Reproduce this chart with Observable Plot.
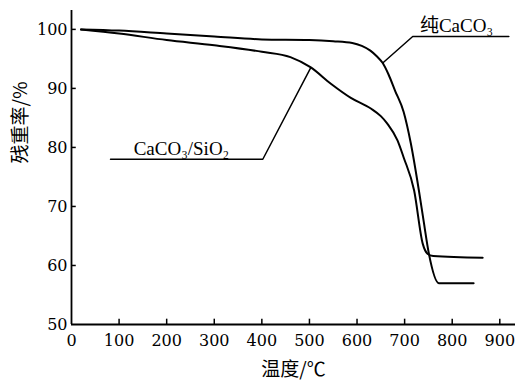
<!DOCTYPE html>
<html>
<head>
<meta charset="utf-8">
<script src="https://cdn.jsdelivr.net/npm/d3@7"></script>
<script src="https://cdn.jsdelivr.net/npm/@observablehq/plot@0.6"></script>
<style>
  html, body { margin: 0; padding: 0; background: #fff; }
  svg { display: block; }
</style>
</head>
<body>
<div id="chart"></div>
<script>
// Pure CaCO3 curve
const pureT = [20, 100, 200, 300, 400, 500, 550, 590, 610, 628, 642, 654, 666, 680, 698, 713, 730, 740, 751, 772, 800, 845];
const pureW = [100, 99.8, 99.3, 98.8, 98.3, 98.2, 98.0, 97.7, 97.2, 96.4, 95.4, 94.3, 92.4, 89.6, 86.0, 80.7, 72.7, 67.5, 62.0, 57.0, 57.0, 57.0];
// CaCO3/SiO2 curve
const compT = [20, 100, 200, 300, 400, 460, 502, 545, 587, 629, 650, 664, 685, 698, 720, 738, 748, 760, 864];
const compW = [100, 99.3, 98.2, 97.3, 96.2, 95.3, 93.6, 90.8, 88.4, 86.6, 85.3, 84.0, 81.2, 78.3, 72.7, 63.7, 62.0, 61.6, 61.3];
// Leader lines for labels
const pureLeaderT = [654, 717, 919];
const pureLeaderW = [94.3, 98.8, 98.8];
const compLeaderT = [502, 402, 82];
const compLeaderW = [93.4, 78.0, 78.0];
const labels = [
  {t: 809, w: 98.8, text: "纯CaCO₃"},
  {t: 231, w: 78.0, text: "CaCO₃/SiO₂"}
];
const xTicks = [0, 100, 200, 300, 400, 500, 600, 700, 800, 900];
const yTicks = [50, 60, 70, 80, 90, 100];
const xLabel = "温度/℃";
const yLabel = "残重率/%";

const zip = (a, b) => a.map((v, i) => ({t: v, w: b[i]}));
const pure = zip(pureT, pureW);
const comp = zip(compT, compW);
const pureLeader = zip(pureLeaderT, pureLeaderW);
const compLeader = zip(compLeaderT, compLeaderW);

const font = "'Liberation Serif', 'Times New Roman', 'Noto Sans CJK SC', serif";
const tickFont = "'DejaVu Serif', 'Liberation Serif', serif";

const chart = Plot.plot({
  width: 517,
  height: 383,
  marginLeft: 71,
  marginRight: 2,
  marginTop: 10,
  marginBottom: 59,
  style: {fontFamily: font, fontSize: "18px", color: "#000", background: "#fff"},
  x: {domain: [0, 933]},
  y: {domain: [50, 103.2]},
  marks: [
    Plot.axisX(xTicks, {tickSize: 0, tickPadding: 10, fontSize: 16, fontFamily: tickFont, label: null}),
    Plot.axisY(yTicks, {tickSize: 0, tickPadding: 4, fontSize: 16, fontFamily: tickFont, label: null}),
    Plot.ruleX(xTicks.filter(d => d > 0), {y1: 50, y2: 50.9, stroke: "#000", strokeWidth: 1.5}),
    Plot.ruleY(yTicks.filter(d => d > 50), {x1: 0, x2: 10, stroke: "#000", strokeWidth: 1.5}),
    Plot.ruleX([0], {stroke: "#000", strokeWidth: 1.8}),
    Plot.ruleY([50], {stroke: "#000", strokeWidth: 1.8}),
    Plot.line(pure, {x: "t", y: "w", curve: "monotone-x", stroke: "#000", strokeWidth: 2}),
    Plot.line(comp, {x: "t", y: "w", curve: "monotone-x", stroke: "#000", strokeWidth: 2}),
    Plot.line(pureLeader, {x: "t", y: "w", stroke: "#000", strokeWidth: 1.5}),
    Plot.line(compLeader, {x: "t", y: "w", stroke: "#000", strokeWidth: 1.5}),
    Plot.text(labels, {x: "t", y: "w", text: "text", lineAnchor: "bottom", dy: -4, fontSize: 19, fill: "#000"}),
    Plot.text([xLabel], {frameAnchor: "bottom", dy: 51, fontSize: 19, fill: "#000", fontFamily: "'Noto Sans CJK SC', sans-serif"}),
    Plot.text([yLabel], {frameAnchor: "left", dx: -51, dy: -4, rotate: -90, fontSize: 19, fill: "#000", fontFamily: "'Noto Sans CJK SC', sans-serif"})
  ]
});
document.getElementById("chart").appendChild(chart);
</script>
</body>
</html>
